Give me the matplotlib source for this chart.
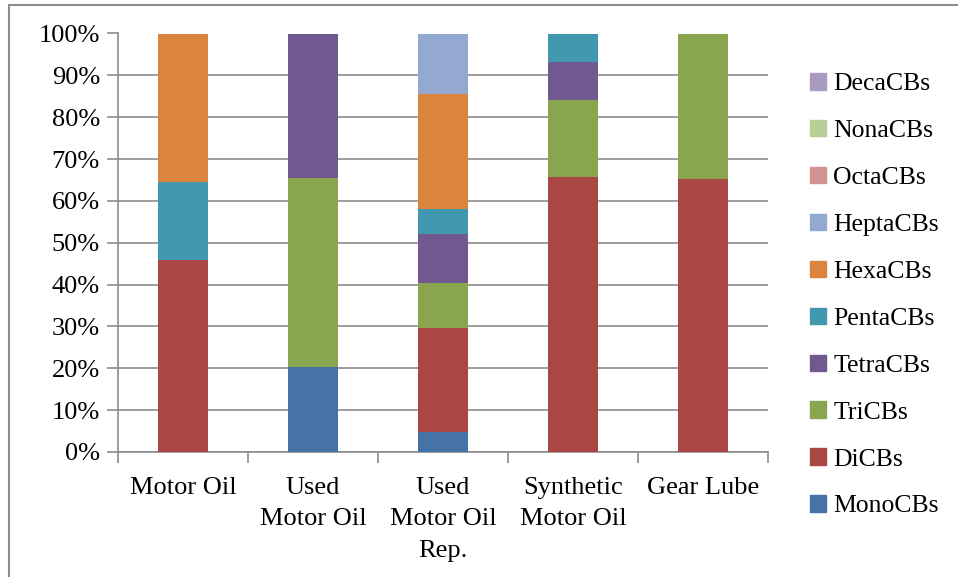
import numpy as np
import matplotlib.pyplot as plt
from matplotlib.patches import Patch, Rectangle
from matplotlib.ticker import PercentFormatter, FixedLocator

categories = ['Motor Oil', 'Used\nMotor Oil', 'Used\nMotor Oil\nRep.', 'Synthetic\nMotor Oil', 'Gear Lube']
series = ['MonoCBs', 'DiCBs', 'TriCBs', 'TetraCBs', 'PentaCBs',
          'HexaCBs', 'HeptaCBs', 'OctaCBs', 'NonaCBs', 'DecaCBs']

# percent of total per category
mono  = [0.0, 20.3, 4.7, 0.0, 0.0]
di    = [45.9, 0.0, 25.0, 65.8, 65.3]
tri   = [0.0, 45.1, 10.8, 18.3, 34.7]
tetra = [0.0, 34.6, 11.5, 9.2, 0.0]
penta = [18.7, 0.0, 6.0, 6.7, 0.0]
hexa  = [35.4, 0.0, 27.5, 0.0, 0.0]
hepta = [0.0, 0.0, 14.5, 0.0, 0.0]
octa  = [0.0, 0.0, 0.0, 0.0, 0.0]
nona  = [0.0, 0.0, 0.0, 0.0, 0.0]
deca  = [0.0, 0.0, 0.0, 0.0, 0.0]

colors = ['#4572A7', '#AA4643', '#89A54E', '#71588F', '#4198AF',
          '#DB843D', '#93A9CF', '#D19392', '#B9CD96', '#A99BBD']

plt.rcParams['font.family'] = ['Liberation Serif', 'DejaVu Serif']
plt.rcParams['font.size'] = 19

fig = plt.figure(figsize=(9.58, 5.77), dpi=100)
ax = fig.add_axes([118/958, 1 - 452/577, 650/958, 418.5/577])

x = np.arange(len(categories))
bottom = np.zeros(len(categories))
for name, vals, col in zip(series, [mono, di, tri, tetra, penta, hexa, hepta, octa, nona, deca], colors):
    ax.bar(x, vals, 0.39, bottom=bottom, color=col, label=name, zorder=3)
    bottom += np.array(vals)

ax.set_xlim(-0.5, len(categories) - 0.5)
ax.set_ylim(0, 100)
ax.set_yticks(np.arange(0, 101, 10))
ax.yaxis.set_major_formatter(PercentFormatter(decimals=0))
ax.grid(axis='y', color='#8c8c8c', linewidth=1.2, zorder=0)

ax.set_xticks(x)
ax.set_xticklabels(categories, linespacing=1.55)
ax.xaxis.set_minor_locator(FixedLocator(np.arange(-0.5, len(categories), 1.0)))
ax.tick_params(axis='x', which='major', length=0, pad=18)
ax.tick_params(axis='x', which='minor', length=8, width=1.2, color='#8c8c8c')
ax.tick_params(axis='y', length=8, width=1.2, color='#8c8c8c', pad=5)

for s in ['top', 'right']:
    ax.spines[s].set_visible(False)
for s in ['left', 'bottom']:
    ax.spines[s].set_color('#8c8c8c')
    ax.spines[s].set_linewidth(1.2)

handles = [Patch(color=c, label=n) for n, c in zip(series, colors)][::-1]
fig.legend(handles=handles, loc='upper left', bbox_to_anchor=(800/958, 1 - 63/577),
           frameon=False, fontsize=18.5, handlelength=0.6, handleheight=0.6, handletextpad=0.3,
           labelspacing=0.96, borderaxespad=0)

# outer chart frame
fig.patches.append(Rectangle((9/958, -0.1), 1.2, 1 - 5/577 + 0.1, transform=fig.transFigure,
                             fill=False, edgecolor='#8c8c8c', linewidth=1.5))

fig.savefig('out.png', dpi=100)
